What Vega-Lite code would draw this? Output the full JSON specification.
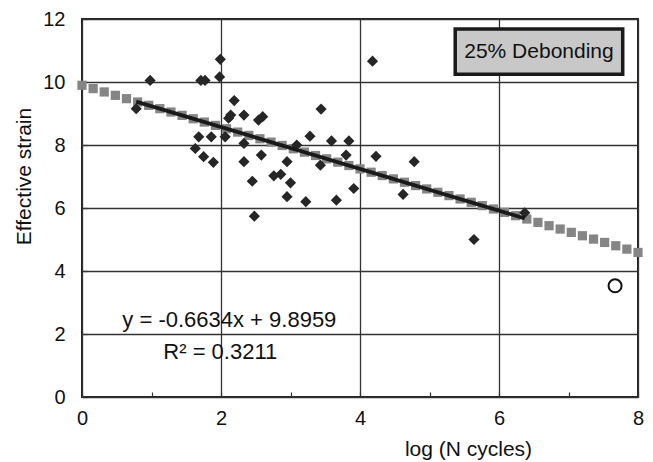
{
  "$schema": "https://vega.github.io/schema/vega-lite/v6.json",
  "width": 556,
  "height": 378,
  "autosize": {"type": "none"},
  "padding": {"left": 82, "top": 19, "right": 15, "bottom": 65},
  "background": "white",
  "config": {
    "view": {"stroke": "#222222", "strokeWidth": 2},
    "font": "Liberation Sans",
    "axis": {
      "domain": false,
      "labelFont": "Liberation Sans",
      "titleFont": "Liberation Sans",
      "labelFontSize": 20,
      "titleFontSize": 21,
      "titleFontWeight": "normal",
      "labelColor": "#111111",
      "titleColor": "#111111",
      "tickColor": "#333333",
      "tickWidth": 1.2,
      "gridColor": "#333333",
      "gridWidth": 1.3,
      "labelFlush": false,
      "labelOverlap": false
    }
  },
  "datasets": {
    "fit": [
      {"x": 0.00, "y": 9.896}, {"x": 0.16, "y": 9.790}, {"x": 0.32, "y": 9.684}, {"x": 0.48, "y": 9.577},
      {"x": 0.64, "y": 9.471}, {"x": 0.80, "y": 9.365}, {"x": 0.96, "y": 9.259}, {"x": 1.12, "y": 9.153},
      {"x": 1.28, "y": 9.047}, {"x": 1.44, "y": 8.941}, {"x": 1.60, "y": 8.834}, {"x": 1.76, "y": 8.728},
      {"x": 1.92, "y": 8.622}, {"x": 2.08, "y": 8.516}, {"x": 2.24, "y": 8.410}, {"x": 2.40, "y": 8.304},
      {"x": 2.56, "y": 8.198}, {"x": 2.72, "y": 8.092}, {"x": 2.88, "y": 7.985}, {"x": 3.04, "y": 7.879},
      {"x": 3.20, "y": 7.773}, {"x": 3.36, "y": 7.667}, {"x": 3.52, "y": 7.561}, {"x": 3.68, "y": 7.455},
      {"x": 3.84, "y": 7.349}, {"x": 4.00, "y": 7.242}, {"x": 4.16, "y": 7.136}, {"x": 4.32, "y": 7.030},
      {"x": 4.48, "y": 6.924}, {"x": 4.64, "y": 6.818}, {"x": 4.80, "y": 6.712}, {"x": 4.96, "y": 6.605},
      {"x": 5.12, "y": 6.499}, {"x": 5.28, "y": 6.393}, {"x": 5.44, "y": 6.287}, {"x": 5.60, "y": 6.181},
      {"x": 5.76, "y": 6.075}, {"x": 5.92, "y": 5.969}, {"x": 6.08, "y": 5.862}, {"x": 6.24, "y": 5.756},
      {"x": 6.40, "y": 5.650}, {"x": 6.56, "y": 5.544}, {"x": 6.72, "y": 5.438}, {"x": 6.88, "y": 5.332},
      {"x": 7.04, "y": 5.226}, {"x": 7.20, "y": 5.119}, {"x": 7.36, "y": 5.013}, {"x": 7.52, "y": 4.907},
      {"x": 7.68, "y": 4.801}, {"x": 7.84, "y": 4.695}, {"x": 8.00, "y": 4.589}
    ],
    "obs": [
      {"x": 0.78, "y": 9.15}, {"x": 0.98, "y": 10.05}, {"x": 1.71, "y": 10.05}, {"x": 1.77, "y": 10.05},
      {"x": 1.98, "y": 10.16}, {"x": 1.99, "y": 10.72}, {"x": 2.19, "y": 9.41}, {"x": 2.11, "y": 8.85},
      {"x": 2.14, "y": 8.95}, {"x": 2.33, "y": 8.95}, {"x": 2.54, "y": 8.79}, {"x": 2.60, "y": 8.90},
      {"x": 3.44, "y": 9.14}, {"x": 4.18, "y": 10.66}, {"x": 1.68, "y": 8.26}, {"x": 1.86, "y": 8.26},
      {"x": 2.06, "y": 8.26}, {"x": 1.63, "y": 7.89}, {"x": 1.75, "y": 7.63}, {"x": 1.89, "y": 7.45},
      {"x": 2.33, "y": 8.05}, {"x": 2.33, "y": 7.47}, {"x": 2.58, "y": 7.68}, {"x": 2.45, "y": 6.85},
      {"x": 2.76, "y": 7.02}, {"x": 2.86, "y": 7.07}, {"x": 2.95, "y": 7.47}, {"x": 3.00, "y": 6.80},
      {"x": 2.95, "y": 6.36}, {"x": 3.22, "y": 6.20}, {"x": 3.09, "y": 8.00}, {"x": 3.28, "y": 8.28},
      {"x": 3.59, "y": 8.13}, {"x": 3.84, "y": 8.13}, {"x": 3.43, "y": 7.36}, {"x": 3.80, "y": 7.68},
      {"x": 3.66, "y": 6.25}, {"x": 3.91, "y": 6.62}, {"x": 2.48, "y": 5.74}, {"x": 4.23, "y": 7.64},
      {"x": 4.78, "y": 7.47}, {"x": 4.62, "y": 6.43}, {"x": 5.64, "y": 5.00}, {"x": 6.37, "y": 5.85}
    ],
    "trend": [{"x": 0.78, "y": 9.378}, {"x": 6.37, "y": 5.670}],
    "outlier": [{"x": 7.67, "y": 3.53}],
    "box": [{"x1": 5.37, "x2": 7.78, "y1": 10.25, "y2": 11.68, "xc": 6.575, "yc": 10.96, "label": "25% Debonding"}],
    "notes": [
      {"x": 2.12, "y": 2.43, "label": "y = -0.6634x + 9.8959"},
      {"x": 1.99, "y": 1.42, "label": "R² = 0.3211"}
    ]
  },
  "layer": [
    {
      "data": {"name": "fit"},
      "mark": {"type": "point", "shape": "square", "filled": true, "color": "#858585", "size": 85, "opacity": 1},
      "encoding": {
        "x": {
          "field": "x", "type": "quantitative",
          "scale": {"domain": [0, 8], "nice": false, "zero": false},
          "axis": {
            "title": "log (N cycles)",
            "values": [0, 0.5, 1, 1.5, 2, 2.5, 3, 3.5, 4, 4.5, 5, 5.5, 6, 6.5, 7, 7.5, 8],
            "labelExpr": "(datum.value == 0 || datum.value == 2 || datum.value == 4 || datum.value == 6 || datum.value == 8) ? format(datum.value, 'd') : ''",
            "labelOverlap": false,
            "labelBound": false,
            "tickSize": -5,
            "labelPadding": 16,
            "gridOpacity": {"condition": {"test": "datum.value % 2 === 0", "value": 1}, "value": 0},
            "titleX": 386,
            "titleY": 52,
            "titleAlign": "center",
            "titleBaseline": "middle"
          }
        },
        "y": {
          "field": "y", "type": "quantitative",
          "scale": {"domain": [0, 12], "nice": false, "zero": false},
          "axis": {
            "title": "Effective strain",
            "format": "d",
            "values": [0, 0.5, 1, 1.5, 2, 2.5, 3, 3.5, 4, 4.5, 5, 5.5, 6, 6.5, 7, 7.5, 8, 8.5, 9, 9.5, 10, 10.5, 11, 11.5, 12],
            "labelExpr": "datum.value % 2 === 0 ? datum.label : ''",
            "labelOverlap": false,
            "tickSize": -5,
            "labelPadding": 22,
            "gridOpacity": {"condition": {"test": "datum.value % 2 === 0", "value": 1}, "value": 0},
            "titleX": -58,
            "titleY": 157,
            "titleAlign": "center",
            "titleBaseline": "middle"
          }
        }
      }
    },
    {
      "data": {"name": "obs"},
      "mark": {"type": "point", "shape": "diamond", "filled": true, "color": "#262626", "size": 125, "opacity": 1},
      "encoding": {
        "x": {"field": "x", "type": "quantitative"},
        "y": {"field": "y", "type": "quantitative"}
      }
    },
    {
      "data": {"name": "trend"},
      "mark": {"type": "line", "color": "#1a1a1a", "strokeWidth": 3.8},
      "encoding": {
        "x": {"field": "x", "type": "quantitative"},
        "y": {"field": "y", "type": "quantitative"}
      }
    },
    {
      "data": {"name": "outlier"},
      "mark": {"type": "point", "shape": "circle", "filled": false, "color": "#111111", "strokeWidth": 2, "size": 170, "opacity": 1},
      "encoding": {
        "x": {"field": "x", "type": "quantitative"},
        "y": {"field": "y", "type": "quantitative"}
      }
    },
    {
      "data": {"name": "box"},
      "mark": {"type": "rect", "fill": "#c8c8c8", "stroke": "#1a1a1a", "strokeWidth": 3.5},
      "encoding": {
        "x": {"field": "x1", "type": "quantitative"},
        "x2": {"field": "x2"},
        "y": {"field": "y1", "type": "quantitative"},
        "y2": {"field": "y2"}
      }
    },
    {
      "data": {"name": "box"},
      "mark": {"type": "text", "fontSize": 21, "font": "Liberation Sans", "color": "#111111", "align": "center", "baseline": "middle"},
      "encoding": {
        "x": {"field": "xc", "type": "quantitative"},
        "y": {"field": "yc", "type": "quantitative"},
        "text": {"field": "label"}
      }
    },
    {
      "data": {"name": "notes"},
      "mark": {"type": "text", "fontSize": 22, "font": "Liberation Sans", "color": "#111111", "align": "center", "baseline": "middle"},
      "encoding": {
        "x": {"field": "x", "type": "quantitative"},
        "y": {"field": "y", "type": "quantitative"},
        "text": {"field": "label"}
      }
    }
  ]
}
